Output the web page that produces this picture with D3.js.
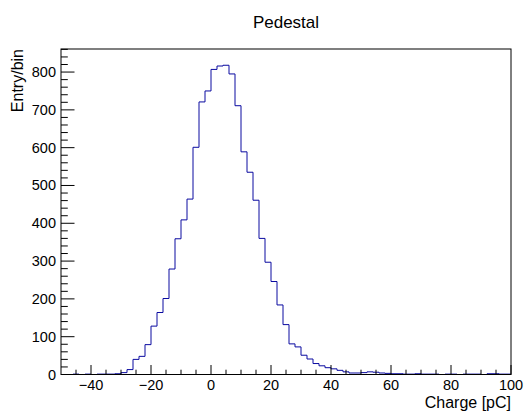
<!DOCTYPE html>
<html>
<head>
<meta charset="utf-8">
<script src="https://cdn.jsdelivr.net/npm/d3@7"></script>
<style>
  html, body { margin: 0; padding: 0; background: #fff; }
  svg { display: block; font-family: "Liberation Sans", Arial, Helvetica, sans-serif; }
</style>
</head>
<body>
<svg id="chart" width="527" height="413"></svg>
<script>
// ---- data ----
const title = "Pedestal";
const xTitle = "Charge [pC]";
const yTitle = "Entry/bin";
const binLow = -50;
const binWidth = 2;
const counts = [
  0, 0, 1, 0, 1, 0, 1, 1, 1, 2,          // -50 .. -32
  5, 13, 40, 48, 79, 128, 164, 201, 279, 359, // -30 .. -12
  409, 464, 601, 721, 750, 807, 816, 818, 795, 711, // -10 .. 8
  589, 535, 461, 360, 297, 246, 184, 132, 81, 73,   // 10 .. 28
  51, 41, 29, 23, 18, 15, 11, 7, 4, 4,              // 30 .. 48
  5, 7, 6, 4, 3, 2, 2, 1, 1, 2,                     // 50 .. 68
  1, 1, 1, 0, 1, 1, 0, 1, 1, 1,                     // 70 .. 88
  0, 2, 2, 1, 1                                     // 90 .. 98
];
const xDomain = [-50, 100];
const yDomain = [0, 861];
const xMajorTicks = [-40, -20, 0, 20, 40, 60, 80, 100];
const yMajorTicks = [0, 100, 200, 300, 400, 500, 600, 700, 800];

// ---- layout ----
const L = 61, R = 511, T = 49, B = 374.5;
const svg = d3.select("#chart");
const x = d3.scaleLinear().domain(xDomain).range([L, R]);
const y = d3.scaleLinear().domain(yDomain).range([B, T]);

// histogram step line
const pts = counts.map((c, i) => [binLow + i * binWidth, c]);
pts.push([binLow + counts.length * binWidth, counts[counts.length - 1]]);
const line = d3.line().x(d => x(d[0])).y(d => y(d[1])).curve(d3.curveStepAfter);
svg.append("path")
  .attr("d", line(pts))
  .attr("fill", "none")
  .attr("stroke", "#0a0aa0")
  .attr("stroke-width", 1);

// frame
svg.append("rect")
  .attr("x", L).attr("y", T).attr("width", R - L).attr("height", B - T)
  .attr("fill", "none").attr("stroke", "#000").attr("stroke-width", 1);

// x ticks (inward)
const xMinor = d3.range(-45, 100.001, 5);
const gx = svg.append("g");
xMinor.forEach(v => {
  const major = xMajorTicks.includes(v);
  gx.append("line")
    .attr("x1", x(v)).attr("x2", x(v))
    .attr("y1", B).attr("y2", B - (major ? 9.5 : 4.8))
    .attr("stroke", "#000").attr("stroke-width", 1);
});
xMajorTicks.forEach(v => {
  gx.append("text")
    .attr("x", x(v)).attr("y", 389.5)
    .attr("text-anchor", "middle")
    .attr("font-size", "14.5px")
    .text(v < 0 ? "\u2212" + Math.abs(v) : String(v));
});

// y ticks (inward)
const yMinor = d3.range(0, 861, 20);
const gy = svg.append("g");
yMinor.forEach(v => {
  const major = yMajorTicks.includes(v);
  gy.append("line")
    .attr("x1", L).attr("x2", L + (major ? 13.5 : 6.8))
    .attr("y1", y(v)).attr("y2", y(v))
    .attr("stroke", "#000").attr("stroke-width", 1);
});
yMajorTicks.forEach(v => {
  gy.append("text")
    .attr("x", 56).attr("y", y(v) + 5)
    .attr("text-anchor", "end")
    .attr("font-size", "14.5px")
    .text(String(v));
});

// titles
svg.append("text")
  .attr("x", 286).attr("y", 28)
  .attr("text-anchor", "middle")
  .attr("font-size", "17px")
  .text(title);

svg.append("text")
  .attr("x", R).attr("y", 408)
  .attr("text-anchor", "end")
  .attr("font-size", "16px")
  .text(xTitle);

svg.append("text")
  .attr("transform", `translate(23,${T}) rotate(-90)`)
  .attr("text-anchor", "end")
  .attr("font-size", "16px")
  .text(yTitle);
</script>
</body>
</html>
